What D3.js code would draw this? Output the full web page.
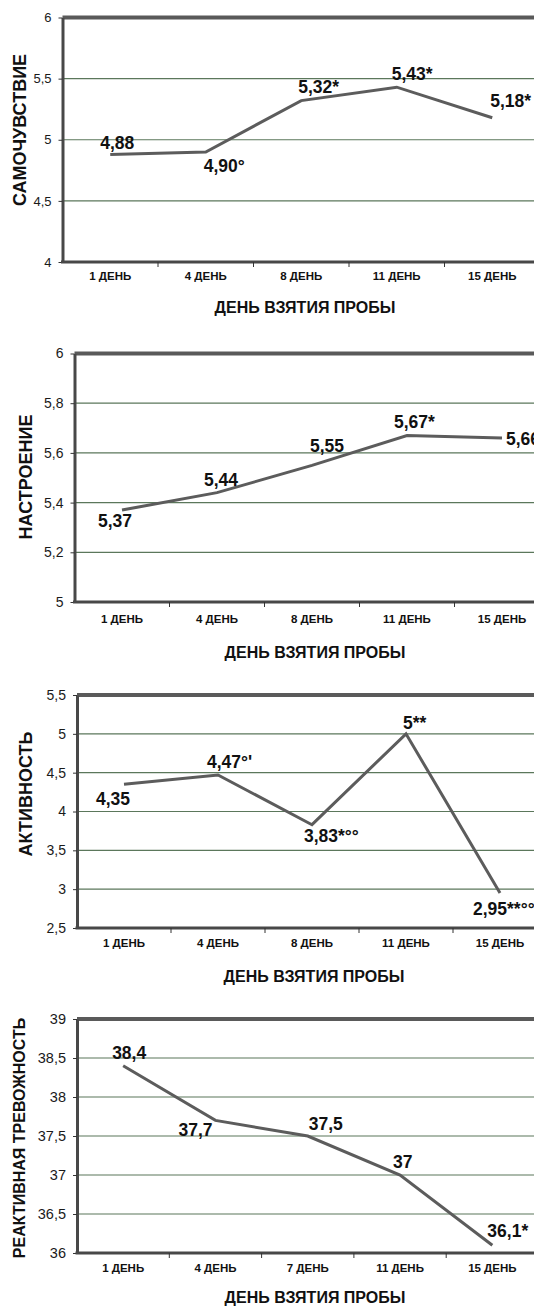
<!DOCTYPE html>
<html>
<head>
<meta charset="utf-8">
<script src="https://cdn.jsdelivr.net/npm/d3@7"></script>
<style>
  body { margin: 0; background: #fff; }
  svg { display: block; font-family: "Liberation Sans", Arial, sans-serif; }
</style>
</head>
<body>
<div id="chart"></div>
<script>
// categories
var daysA=["1 ДЕНЬ","4 ДЕНЬ","8 ДЕНЬ","11 ДЕНЬ","15 ДЕНЬ"];
var daysB=["1 ДЕНЬ","4 ДЕНЬ","7 ДЕНЬ","11 ДЕНЬ","15 ДЕНЬ"];

// series values + point labels
var wellbeing=[4.88,4.90,5.32,5.43,5.18];
var wellbeingLabels=["4,88","4,90°","5,32*","5,43*","5,18*"];
var mood=[5.37,5.44,5.55,5.67,5.66];
var moodLabels=["5,37","5,44","5,55","5,67*","5,66"];
var activity=[4.35,4.47,3.83,5,2.95];
var activityLabels=["4,35","4,47°'","3,83*°°","5**","2,95**°°"];
var anxiety=[38.4,37.7,37.5,37,36.1];
var anxietyLabels=["38,4","37,7","37,5","37","36,1*"];

// y tick values
var wellbeingTicks=[4,4.5,5,5.5,6];
var moodTicks=[5,5.2,5.4,5.6,5.8,6];
var activityTicks=[2.5,3,3.5,4,4.5,5,5.5];
var anxietyTicks=[36,36.5,37,37.5,38,38.5,39];

var xTitle="ДЕНЬ ВЗЯТИЯ ПРОБЫ";

// panel layout
var panels=[
  {title:"САМОЧУВСТВИЕ",cats:daysA,values:wellbeing,labels:wellbeingLabels,ticks:wellbeingTicks,
   top:17.5,bottom:262,left:62.5,band:95.5,tickFont:13,titleX:26,titleY:130,titleFont:18,
   catY:280,xTitleY:313,xTitleX:305,
   dx:[-10,-2,-3,-5,-2],dy:[-5,20,-8,-7,-11]},
  {title:"НАСТРОЕНИЕ",cats:daysA,values:mood,labels:moodLabels,ticks:moodTicks,
   top:353.5,bottom:602,left:74.5,band:95,tickFont:14,titleX:32,titleY:477,titleFont:18,
   catY:623,xTitleY:658,xTitleX:315,
   dx:[-24,-13,-2,-13,4],dy:[17,-7,-13,-8,7]},
  {title:"АКТИВНОСТЬ",cats:daysA,values:activity,labels:activityLabels,ticks:activityTicks,
   top:695,bottom:928,left:77,band:94,tickFont:14,titleX:32,titleY:794,titleFont:18,
   catY:947,xTitleY:982,xTitleX:314,
   dx:[-28,-11,-8,-3,-27],dy:[21,-7,17,-5,22]},
  {title:"РЕАКТИВНАЯ ТРЕВОЖНОСТЬ",cats:daysB,values:anxiety,labels:anxietyLabels,ticks:anxietyTicks,
   top:1019,bottom:1253,left:77,band:92.3,tickFont:14.5,titleX:25,titleY:1138,titleFont:16,
   catY:1272,xTitleY:1303,xTitleX:315,
   dx:[-11,-37,1,-7,-5],dy:[-7,16,-6,-7,-8]}
];

var svgWidth=534;
var svgHeight=1306;

var svg=d3.select("#chart")
.append("svg")
.attr("width",svgWidth)
.attr("height",svgHeight);

svg.append("rect")
.attr("width",svgWidth)
.attr("height",svgHeight)
.attr("fill","#fff");

var fmt=d=>String(d).replace(".",",");

panels.forEach(function(p) {
    var right=p.left+p.band*p.cats.length;

    var x=d3.scaleBand()
        .domain(p.cats)
        .range([p.left,right]);
    var y=d3.scaleLinear()
        .domain([d3.min(p.ticks),d3.max(p.ticks)])
        .range([p.bottom,p.top]);

    var g=svg.append("g");

    // gridlines
    g.append("g")
    .selectAll("line")
    .data(p.ticks.slice(1,-1))
    .enter()
    .append("line")
    .attr("x1",p.left)
    .attr("x2",right)
    .attr("y1",d=>y(d))
    .attr("y2",d=>y(d))
    .attr("stroke","#5b775b")
    .attr("stroke-width",1.2);

    // top border
    g.append("line")
    .attr("x1",p.left)
    .attr("x2",right)
    .attr("y1",p.top)
    .attr("y2",p.top)
    .attr("stroke","#5a5a5a")
    .attr("stroke-width",4);

    // y axis
    var yAxis=g.append("g")
    .attr("transform",`translate(${p.left},0)`)
    .call(d3.axisLeft(y).tickValues(p.ticks).tickSize(4).tickSizeOuter(0).tickPadding(7).tickFormat(fmt));
    yAxis.select(".domain").attr("stroke","#484848").attr("stroke-width",3);
    yAxis.selectAll(".tick line").attr("stroke","#333");
    yAxis.selectAll("text")
    .attr("font-size",p.tickFont)
    .attr("font-family","Liberation Sans, Arial, sans-serif")
    .attr("fill","#1a1a1a");

    // x axis baseline
    g.append("line")
    .attr("x1",p.left-1.5)
    .attr("x2",right)
    .attr("y1",p.bottom)
    .attr("y2",p.bottom)
    .attr("stroke","#484848")
    .attr("stroke-width",3);

    // band boundary ticks
    g.append("g")
    .selectAll("line")
    .data(p.cats.slice(1))
    .enter()
    .append("line")
    .attr("x1",d=>x(d))
    .attr("x2",d=>x(d))
    .attr("y1",p.bottom)
    .attr("y2",p.bottom+5)
    .attr("stroke","#333");

    // category labels
    g.append("g")
    .selectAll("text")
    .data(p.cats)
    .enter()
    .append("text")
    .attr("x",d=>x(d)+x.bandwidth()/2)
    .attr("y",p.catY)
    .attr("text-anchor","middle")
    .attr("font-size",11.5)
    .attr("font-weight","bold")
    .attr("fill","#111")
    .text(d=>d);

    // series line
    var line=d3.line()
        .x((d,i)=>x(p.cats[i])+x.bandwidth()/2)
        .y(d=>y(d));
    g.append("path")
    .datum(p.values)
    .attr("d",line)
    .attr("fill","none")
    .attr("stroke","#5c5c5c")
    .attr("stroke-width",3);

    // value labels
    g.append("g")
    .selectAll("text")
    .data(p.values)
    .enter()
    .append("text")
    .attr("x",(d,i)=>x(p.cats[i])+x.bandwidth()/2+p.dx[i])
    .attr("y",(d,i)=>y(d)+p.dy[i])
    .attr("font-size",17.5)
    .attr("font-weight","bold")
    .attr("fill","#111")
    .text((d,i)=>p.labels[i]);

    // y title
    g.append("text")
    .attr("transform",`translate(${p.titleX},${p.titleY}) rotate(-90)`)
    .attr("text-anchor","middle")
    .attr("font-size",p.titleFont)
    .attr("font-weight","bold")
    .attr("fill","#111")
    .text(p.title);

    // x title
    g.append("text")
    .attr("x",p.xTitleX)
    .attr("y",p.xTitleY)
    .attr("text-anchor","middle")
    .attr("font-size",16)
    .attr("font-weight","bold")
    .attr("fill","#111")
    .text(xTitle);
});
</script>
</body>
</html>
